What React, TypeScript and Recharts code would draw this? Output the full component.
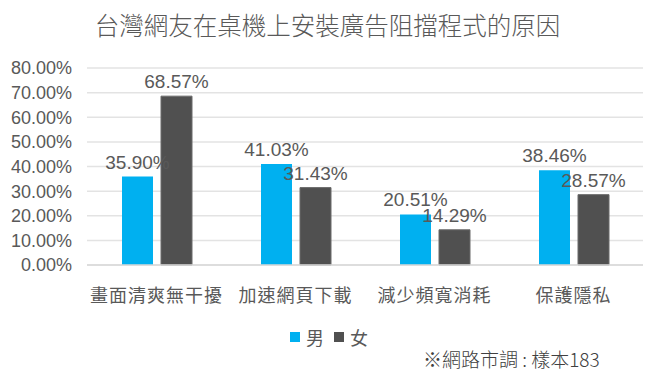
import { BarChart, Bar, XAxis, YAxis, CartesianGrid, LabelList } from 'recharts'

const CATEGORIES = ['畫面清爽無干擾', '加速網頁下載', '減少頻寬消耗', '保護隱私']
const MALE = [35.9, 41.03, 20.51, 38.46]
const FEMALE = [68.57, 31.43, 14.29, 28.57]
const Y_TICKS = [0, 10, 20, 30, 40, 50, 60, 70, 80]

const BLUE = '#00b0f0'
const GRAY = '#505050'
const TEXT = '#595959'
const LATIN = '"Liberation Sans", Arial, sans-serif'
const CJK = '"Noto Sans CJK TC", "Noto Sans", sans-serif'

const data = CATEGORIES.map((name, i) => ({ name, male: MALE[i], female: FEMALE[i] }))

const pct = (v: number) => `${v.toFixed(2)}%`

export default function App() {
  return (
    <div style={{ position: 'absolute', left: 0, top: 0, width: 649, height: 378, background: '#fff' }}>
      <div style={{ position: 'absolute', top: 7, left: 0, width: 655, textAlign: 'center', fontFamily: CJK, fontWeight: 300, fontSize: 24.5, color: TEXT, lineHeight: '36px' }}>
        台灣網友在桌機上安裝廣告阻擋程式的原因
      </div>
      <BarChart
        width={649}
        height={378}
        data={data}
        margin={{ top: 68, right: 6, bottom: 83, left: 0 }}
        barGap={8}
        barCategoryGap="25%"
      >
        <CartesianGrid vertical={false} stroke="#e3e3e3" strokeWidth={1.5} />
        <XAxis
          dataKey="name"
          height={30}
          axisLine={{ stroke: '#d9d9d9', strokeWidth: 1.5 }}
          tickLine={false}
          tickMargin={18}
          interval={0}
          tick={{ fill: TEXT, fontSize: 18, fontFamily: CJK, letterSpacing: 1 }}
        />
        <YAxis
          width={87}
          domain={[0, 80]}
          ticks={Y_TICKS}
          interval={0}
          axisLine={false}
          tickLine={false}
          tickMargin={9}
          tickFormatter={pct}
          tick={{ fill: TEXT, fontSize: 18, fontFamily: LATIN }}
        />
        <Bar dataKey="male" fill={BLUE} barSize={31} isAnimationActive={false}>
          <LabelList dataKey="male" position="top" offset={8} formatter={(v: any) => pct(Number(v))} style={{ fill: TEXT, fontSize: 19, fontFamily: LATIN }} />
        </Bar>
        <Bar dataKey="female" fill={GRAY} stroke="#6a6a6a" strokeWidth={1} barSize={31} isAnimationActive={false}>
          <LabelList dataKey="female" position="top" offset={8} formatter={(v: any) => pct(Number(v))} style={{ fill: TEXT, fontSize: 19, fontFamily: LATIN }} />
        </Bar>
      </BarChart>
      <div style={{ position: 'absolute', top: 325, left: 290, display: 'flex', alignItems: 'center', fontFamily: CJK, fontSize: 18, color: TEXT, lineHeight: '24px' }}>
        <span style={{ width: 10, height: 10, background: BLUE, marginRight: 6 }} />
        <span style={{ marginRight: 10 }}>男</span>
        <span style={{ width: 10, height: 10, background: GRAY, marginRight: 6 }} />
        <span>女</span>
      </div>
      <div style={{ position: 'absolute', top: 345, left: 423, fontFamily: CJK, fontWeight: 300, fontSize: 19, color: '#404040', lineHeight: '28px' }}>
        ※網路市調 : 樣本183
      </div>
    </div>
  )
}
